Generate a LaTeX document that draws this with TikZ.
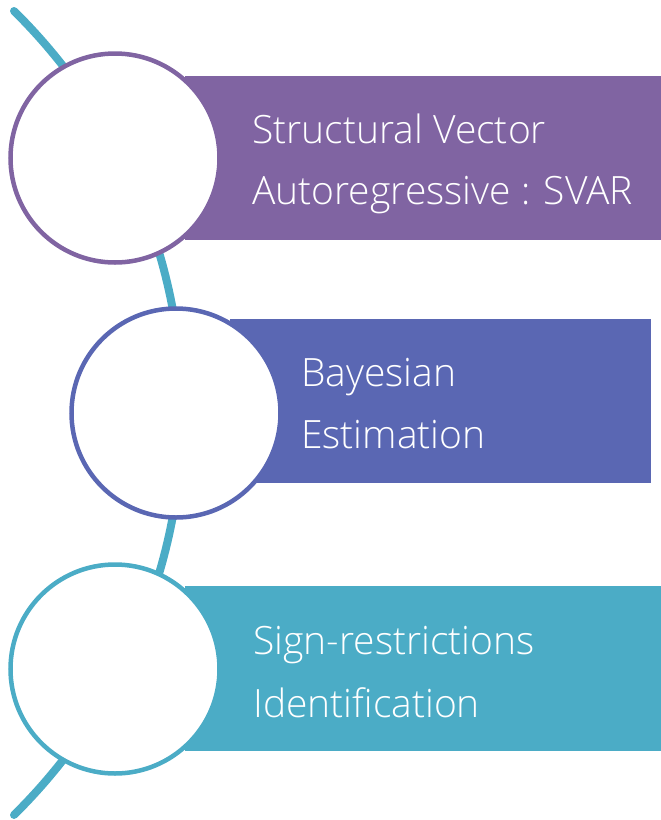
\documentclass[tikz,border=0pt]{standalone}
\usepackage{fontspec}
\setmainfont{Open Sans}[UprightFont={* Light}]
\definecolor{cpurple}{HTML}{8064A2}
\definecolor{cblue}{HTML}{5A67B3}
\definecolor{cteal}{HTML}{4BACC6}
\tikzset{
  x=1pt, y=-1pt,
  band/.style={fill=#1, draw=none},
  ring/.style={circle, draw=#1, line width=4.5pt, fill=white, minimum size=209pt, inner sep=0pt},
  label/.style={anchor=base west, text=white, inner sep=0pt,
    font=\fontsize{39}{46}\selectfont},
  spine/.style={draw=cteal, line width=8pt, line cap=round}
}
\begin{document}
\begin{tikzpicture}
  \useasboundingbox (0,0) rectangle (661,820);
  % the connecting arc behind everything
  \coordinate (top) at (14,11);
  \draw[spine] (top) arc[start angle=45.46, end angle=-45.46, radius=564pt];
  % coloured bands
  \path[band=cpurple] (185,76) rectangle (661,240);
  \path[band=cblue] (230,319) rectangle (651,483);
  \path[band=cteal] (185,586) rectangle (661,751);
  % rings
  \node[ring=cpurple] (c1) at (115,158) {};
  \node[ring=cblue] (c2) at (176,413) {};
  \node[ring=cteal] (c3) at (115,669) {};
  % texts
  \node[label] (t1a) at (252,143) {Structural Vector};
  \node[label] (t1b) at (252,204) {Autoregressive : SVAR};
  \node[label] (t2a) at (301,386) {Bayesian};
  \node[label] (t2b) at (301,448) {Estimation};
  \node[label] (t3a) at (253,654) {Sign-restrictions};
  \node[label] (t3b) at (253,717) {Identification};
\end{tikzpicture}
\end{document}
